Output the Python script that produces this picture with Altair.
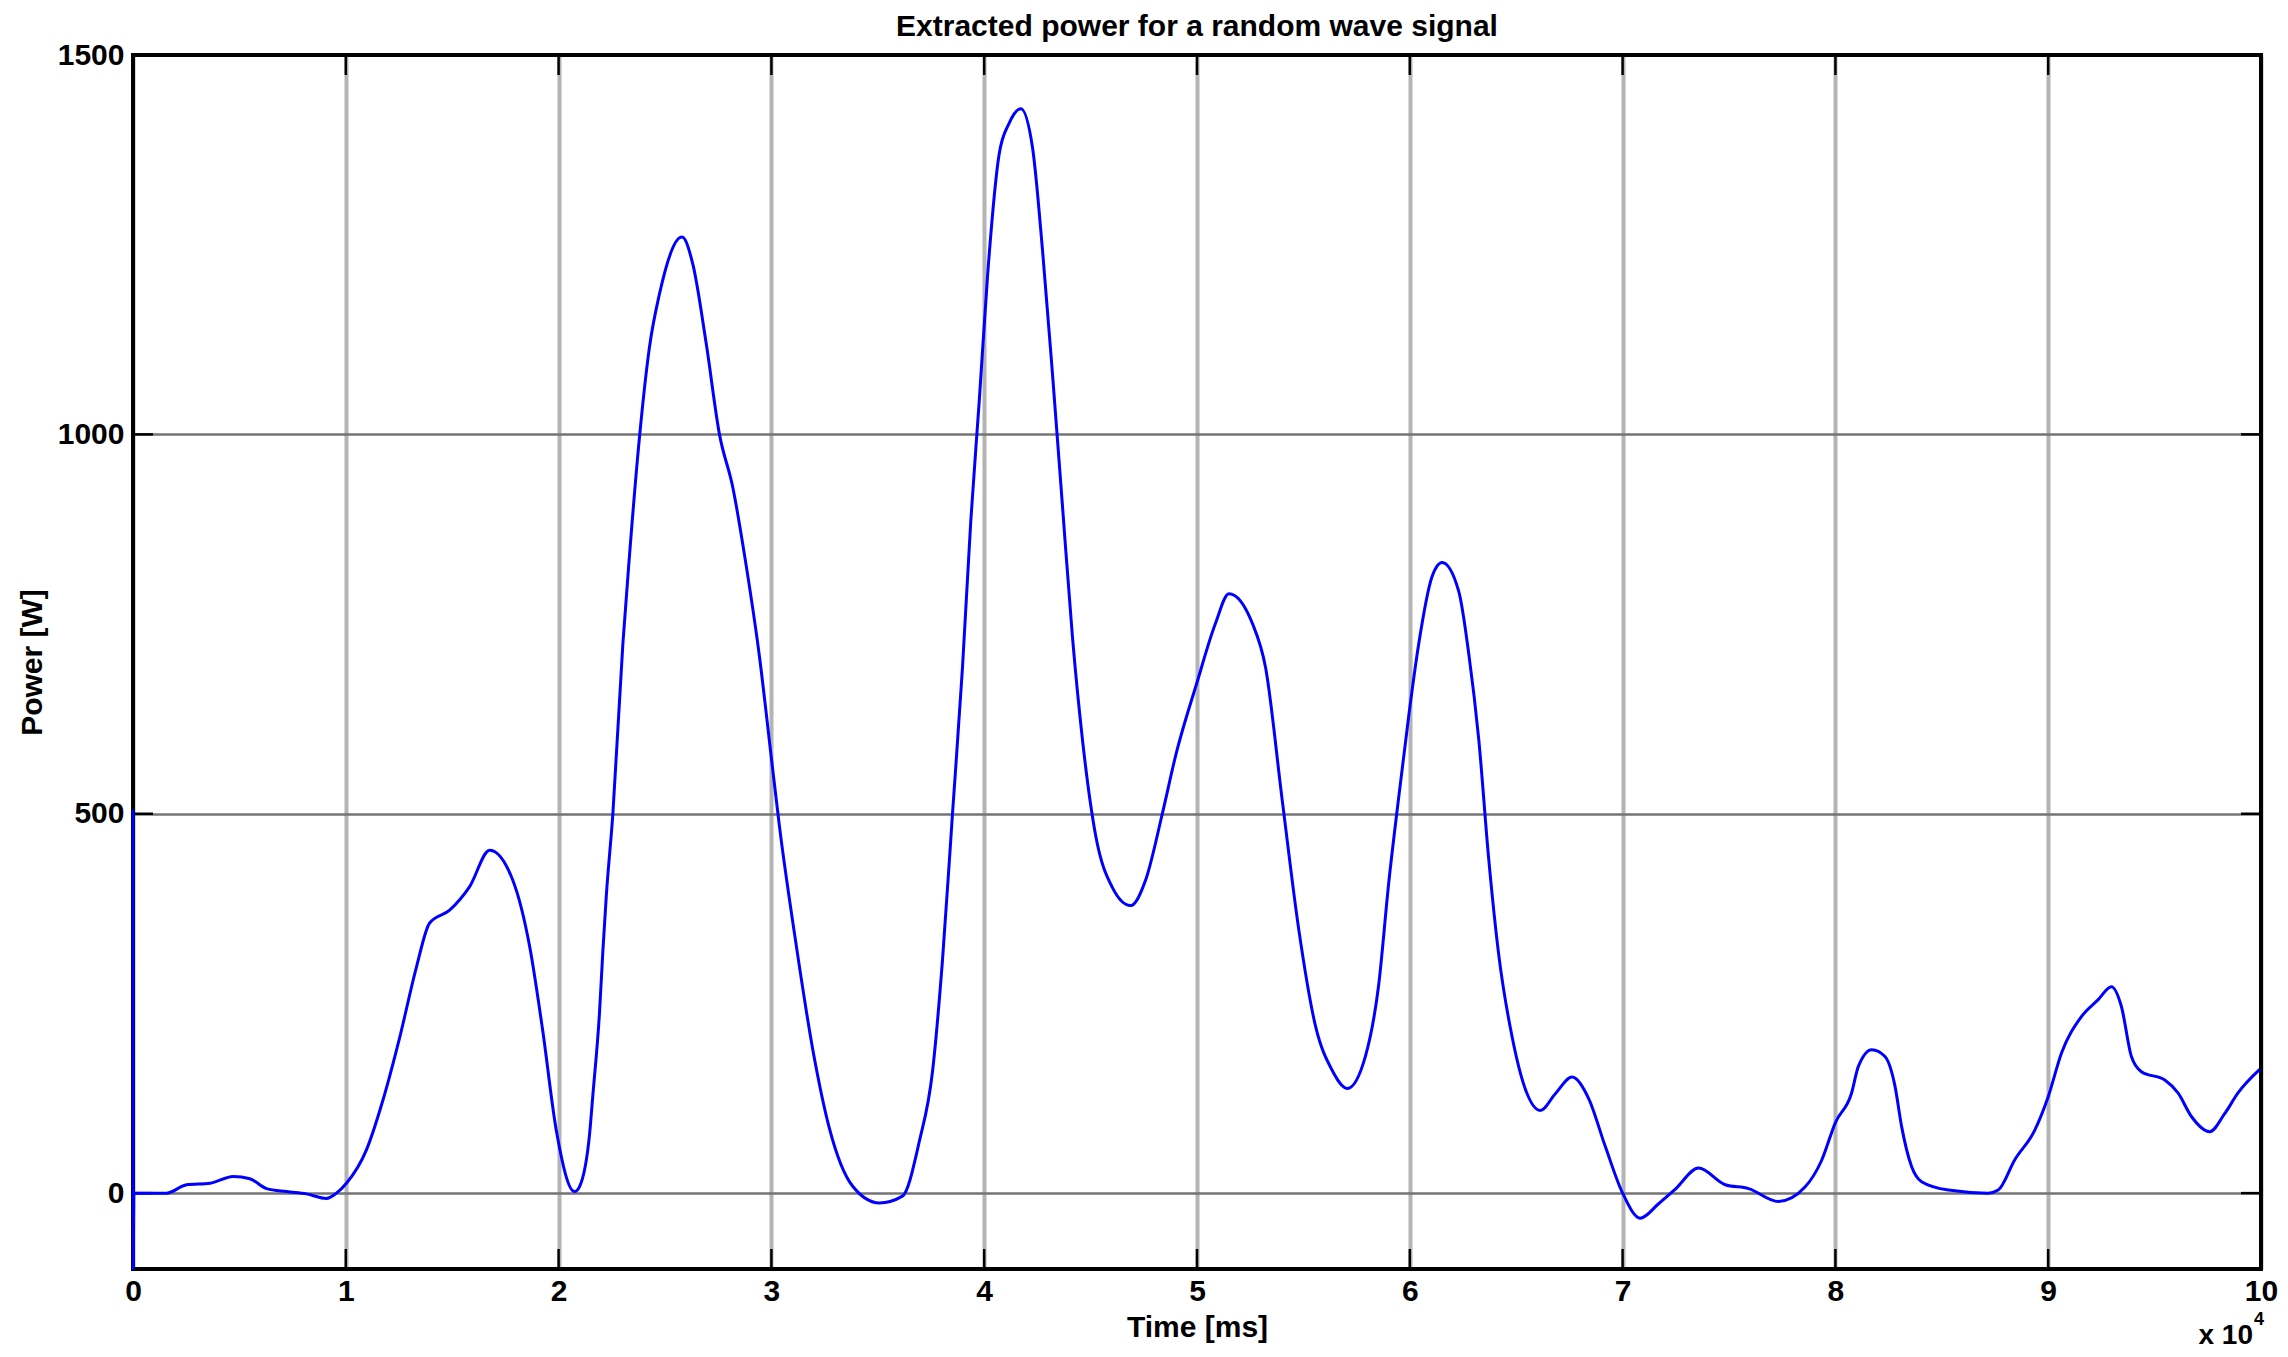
import altair as alt
import pandas as pd

# Time in units of 10^4 ms (axis shows "x 10^4")
time_e4 = [0.000, 0.001, 0.004, 0.033, 0.158, 0.252, 0.362, 0.471, 0.549, 0.628,
           0.722, 0.815, 0.909, 0.956, 1.003, 1.097, 1.175, 1.254, 1.332, 1.394,
           1.488, 1.582, 1.676, 1.784, 1.864, 1.925, 1.989, 2.075, 2.099, 2.146,
           2.161, 2.192, 2.208, 2.224, 2.255, 2.302, 2.333, 2.380, 2.427, 2.474,
           2.580, 2.631, 2.693, 2.756, 2.818, 2.881, 2.944, 2.998, 3.038, 3.116,
           3.194, 3.272, 3.382, 3.507, 3.616, 3.695, 3.757, 3.804, 3.851, 3.898,
           3.937, 3.977, 4.016, 4.070, 4.117, 4.172, 4.227, 4.274, 4.321, 4.368,
           4.415, 4.462, 4.524, 4.602, 4.688, 4.759, 4.837, 4.900, 5.001, 5.087,
           5.150, 5.260, 5.322, 5.400, 5.479, 5.557, 5.635, 5.706, 5.792, 5.854,
           5.901, 5.948, 5.995, 6.042, 6.104, 6.152, 6.230, 6.277, 6.324, 6.371,
           6.418, 6.480, 6.543, 6.613, 6.684, 6.762, 6.840, 6.918, 7.000, 7.083,
           7.169, 7.247, 7.357, 7.482, 7.592, 7.732, 7.857, 7.935, 8.000, 8.075,
           8.108, 8.171, 8.233, 8.280, 8.311, 8.358, 8.405, 8.531, 8.718, 8.765,
           8.843, 8.937, 9.000, 9.063, 9.157, 9.235, 9.297, 9.344, 9.391, 9.438,
           9.548, 9.610, 9.673, 9.759, 9.830, 9.892, 9.994]
power_w = [505, -100, 0, 0, 0, 11, 13, 22, 19, 6,
           2, -1, -7, 0, 13, 57, 123, 206, 298, 356,
           373, 404, 452, 413, 325, 215, 83, 2, 9, 79,
           129, 237, 319, 391, 500, 724, 840, 996, 1115, 1185,
           1260, 1224, 1121, 1000, 931, 828, 707, 578, 483, 328,
           190, 86, 9, -13, -4, 68, 160, 307, 500, 693,
           886, 1045, 1210, 1369, 1410, 1429, 1378, 1243, 1079, 905,
           732, 597, 471, 403, 379, 413, 500, 577, 674, 751,
           790, 751, 693, 519, 346, 220, 162, 138, 181, 275,
           409, 522, 629, 724, 812, 831, 793, 711, 598, 440,
           314, 207, 137, 109, 131, 153, 125, 62, 0, -33,
           -14, 5, 33, 11, 6, -11, 8, 43, 93, 131,
           167, 189, 180, 141, 88, 35, 15, 4, 0, 4,
           44, 83, 127, 185, 233, 255, 272, 246, 180, 160,
           149, 132, 101, 81, 105, 132, 163]

x_ticks = list(range(11))
y_ticks = [0, 500, 1000, 1500]

W, H = 2128, 1214
FONT = "Liberation Sans"

df = pd.DataFrame({"t": time_e4, "p": power_w})
xs = alt.Scale(domain=[0, 10], nice=False, zero=False)
ys = alt.Scale(domain=[-100, 1500], nice=False, zero=False)

x_axis = alt.Axis(
    values=x_ticks, title="Time [ms]", format="d", grid=True,
    gridColor="#b4b4b4", gridWidth=4, ticks=False, domain=False,
    labelPadding=7, titlePadding=6, labelFontSize=30, titleFontSize=30,
    labelFontWeight="bold", titleFontWeight="bold", labelColor="black",
    titleColor="black", labelFont=FONT, titleFont=FONT, labelFlush=False)
y_axis = alt.Axis(
    values=y_ticks, title="Power [W]", format="d", grid=True,
    gridColor="#747474", gridWidth=2.5, ticks=False, domain=False,
    labelPadding=9, titlePadding=10, labelFontSize=30, titleFontSize=30,
    labelFontWeight="bold", titleFontWeight="bold", labelColor="black",
    titleColor="black", labelFont=FONT, titleFont=FONT, labelFlush=False)

# frame (drawn under the curve, like the reference)
frame = alt.Chart(pd.DataFrame({"k": ["frame"]})).mark_rect(
    fill=None, stroke="black", strokeWidth=4
).encode(x=alt.value(0), x2=alt.value(W), y=alt.value(0), y2=alt.value(H))

line = alt.Chart(df).mark_line(
    color="#0000ff", strokeWidth=3, interpolate="monotone", clip=False
).encode(
    x=alt.X("t:Q", scale=xs, axis=x_axis, title="Time [ms]"),
    y=alt.Y("p:Q", scale=ys, axis=y_axis, title="Power [W]"),
)

xt = pd.DataFrame({"t": x_ticks})
yt = pd.DataFrame({"p": y_ticks})
TL = 20
tick_bottom = alt.Chart(xt).mark_rule(color="black", strokeWidth=2.5).encode(
    x=alt.X("t:Q", scale=xs, axis=x_axis, title="Time [ms]"),
    y=alt.value(H), y2=alt.value(H - TL))
tick_top = alt.Chart(xt).mark_rule(color="black", strokeWidth=2.5).encode(
    x=alt.X("t:Q", scale=xs, axis=x_axis, title="Time [ms]"),
    y=alt.value(0), y2=alt.value(TL))
tick_left = alt.Chart(yt).mark_rule(color="black", strokeWidth=2.5).encode(
    y=alt.Y("p:Q", scale=ys, axis=y_axis, title="Power [W]"),
    x=alt.value(0), x2=alt.value(TL))
tick_right = alt.Chart(yt).mark_rule(color="black", strokeWidth=2.5).encode(
    y=alt.Y("p:Q", scale=ys, axis=y_axis, title="Power [W]"),
    x=alt.value(W), x2=alt.value(W - TL))

exp_base = alt.Chart(pd.DataFrame({"s": ["x 10"]})).mark_text(
    align="right", baseline="middle", fontSize=28, fontWeight="bold",
    font=FONT, color="black"
).encode(text="s:N", x=alt.value(W - 8), y=alt.value(1281))
exp_pow = alt.Chart(pd.DataFrame({"s": ["4"]})).mark_text(
    align="left", baseline="middle", fontSize=18, fontWeight="bold",
    font=FONT, color="black"
).encode(text="s:N", x=alt.value(W - 7), y=alt.value(1265))

chart = alt.layer(
    frame, tick_bottom, tick_top, tick_left, tick_right, line, exp_base, exp_pow
).properties(
    width=W, height=H,
    title=alt.TitleParams("Extracted power for a random wave signal",
                          fontSize=30, fontWeight="bold", font=FONT,
                          color="black", anchor="middle", offset=-2),
    padding={"left": 125, "top": 47, "right": 19, "bottom": 88},
    autosize=alt.AutoSizeParams(type="none"),
    background="white",
).configure_view(
    stroke=None
)

chart.save("out.html", embed_options={"renderer": "svg", "actions": False})
